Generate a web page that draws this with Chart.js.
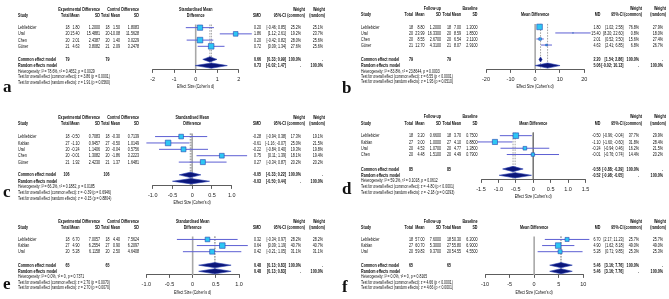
<!DOCTYPE html>
<html>
<head>
<meta charset="utf-8">
<title>Forest plots a-f</title>
<script src="https://cdn.jsdelivr.net/npm/chart.js@4.4.1/dist/chart.umd.min.js"></script>
<style>
  html, body { margin: 0; padding: 0; background: #fff; overflow: hidden; }
  #figure { position: relative; width: 669px; height: 299px; }
  #figure canvas { position: absolute; }
</style>
</head>
<body>
<div id="figure">
  <canvas id="plotA" width="335" height="108" style="left:0;top:0"></canvas>
  <canvas id="plotB" width="334" height="108" style="left:335px;top:0"></canvas>
  <canvas id="plotC" width="335" height="104" style="left:0;top:108px"></canvas>
  <canvas id="plotD" width="334" height="104" style="left:335px;top:108px"></canvas>
  <canvas id="plotE" width="335" height="87" style="left:0;top:212px"></canvas>
  <canvas id="plotF" width="334" height="87" style="left:335px;top:212px"></canvas>
</div>
<script>
// ---------- data ----------

// a - standardised mean difference, 4 studies
const aStudies = ['Lebliebicier', 'Ural', 'Chen', 'Güner'];
const aTotalE = [18, 20, 20, 21];
const aMeanE = [1.80, 15.40, 2.01, 4.63];
const aSdE = [1.2000, 15.4881, 2.4387, 3.8082];
const aTotalC = [18, 20, 20, 21];
const aMeanC = [1.50, -10.08, 1.40, 2.09];
const aSdC = [1.8083, 11.5628, 3.0229, 3.2478];
const aEst = [0.20, 1.86, 0.20, 0.72];
const aLow = [-0.46, 1.12, -0.42, 0.09];
const aHigh = [0.85, 2.61, 0.82, 1.34];
const aWCommon = [25.2, 19.2, 28.0, 27.6];
const aWRandom = [25.1, 23.7, 25.6, 25.6];
const aCommon = [0.66, 0.33, 0.99];
const aRandom = [0.73, -0.02, 1.47];
const aTicks = [-2, -1, 0, 1, 2];
const aStats = ['Heterogeneity: I² = 78.6%, τ² = 0.4652, p = 0.0029',
  'Test for overall effect (common effect): z = 3.86 (p = 0.0001)',
  'Test for overall effect (random effects): z = 1.91 (p = 0.0560)'];

// b - mean difference, 4 studies
const bStudies = ['Lebliebicier', 'Ural', 'Chen', 'Güner'];
const bTotalE = [18, 20, 20, 21];
const bMeanE = [8.80, 23.99, 8.55, 12.70];
const bSdE = [1.2000, 16.3300, 2.6700, 4.3100];
const bTotalC = [18, 20, 20, 21];
const bMeanC = [7.00, 8.59, 6.54, 8.07];
const bSdC = [1.2000, 1.8500, 2.1100, 2.9100];
const bEst = [1.80, 15.40, 2.01, 4.63];
const bLow = [1.02, 8.20, 0.52, 2.41];
const bHigh = [2.58, 22.60, 3.50, 6.85];
const bWCommon = [76.8, 0.8, 15.6, 6.8];
const bWRandom = [27.9, 18.0, 27.4, 26.7];
const bCommon = [2.20, 1.54, 2.86];
const bRandom = [5.06, -0.02, 10.13];
const bTicks = [-20, -10, 0, 10, 20];
const bStats = ['Heterogeneity: I² = 83.8%, τ² = 23.8644, p = 0.0003',
  'Test for overall effect (common effect): z = 6.55 (p < 0.0001)',
  'Test for overall effect (random effects): z = 1.95 (p = 0.0510)'];

// c - standardised mean difference, 5 studies
const cStudies = ['Lebliebicier', 'Kablan', 'Ural', 'Chen', 'Güner'];
const cTotalE = [18, 27, 20, 20, 21];
const cMeanE = [-0.50, -1.10, -0.24, -0.01, 1.92];
const cSdE = [0.7083, 0.9457, 1.1406, 1.3082, 2.4230];
const cTotalC = [18, 27, 20, 20, 21];
const cMeanC = [-0.30, -0.50, -0.04, -1.86, 1.37];
const cSdC = [0.7139, 1.0149, 0.5756, 3.2223, 1.6481];
const cEst = [-0.28, -0.61, -0.22, 0.75, 0.27];
const cLow = [-0.94, -1.16, -0.84, 0.11, -0.34];
const cHigh = [0.38, -0.07, 0.40, 1.39, 0.87];
const cWCommon = [17.3, 25.0, 19.3, 18.1, 20.2];
const cWRandom = [19.1, 21.5, 19.8, 19.4, 20.2];
const cCommon = [-0.05, -0.33, 0.22];
const cRandom = [-0.03, -0.50, 0.44];
const cTicks = [-1, -0.5, 0, 0.5, 1];
const cStats = ['Heterogeneity: I² = 66.2%, τ² = 0.1882, p = 0.0185',
  'Test for overall effect (common effect): z = -0.39 (p = 0.6946)',
  'Test for overall effect (random effects): z = -0.15 (p = 0.8804)'];

// d - mean difference, 4 studies
const dStudies = ['Lebliebicier', 'Kablan', 'Ural', 'Chen'];
const dTotalE = [18, 27, 20, 20];
const dMeanE = [3.20, 3.00, 4.53, 4.48];
const dSdE = [0.6600, 1.0000, 1.0700, 1.5100];
const dTotalC = [18, 27, 20, 20];
const dMeanC = [3.70, 4.10, 4.77, 4.49];
const dSdC = [0.7500, 0.8800, 1.2800, 0.7900];
const dEst = [-0.50, -1.10, -0.24, -0.01];
const dLow = [-0.96, -1.60, -0.94, -0.76];
const dHigh = [-0.04, -0.60, 0.46, 0.74];
const dWCommon = [37.7, 31.8, 16.2, 14.4];
const dWRandom = [29.9, 28.4, 21.5, 20.2];
const dCommon = [-0.58, -0.88, -0.29];
const dRandom = [-0.52, -0.98, -0.05];
const dTicks = [-1.5, -1, -0.5, 0, 0.5, 1, 1.5];
const dStats = ['Heterogeneity: I² = 59.2%, τ² = 0.1018, p = 0.0612',
  'Test for overall effect (common effect): z = -4.80 (p < 0.0001)',
  'Test for overall effect (random effects): z = -2.18 (p = 0.0293)'];

// e - standardised mean difference, 3 studies
const eStudies = ['Lebliebicier', 'Kablan', 'Ural'];
const eTotalE = [18, 27, 20];
const eMeanE = [6.70, 4.90, 5.28];
const eSdE = [7.0057, 6.2554, 6.1158];
const eTotalC = [18, 27, 20];
const eMeanC = [4.40, 0.90, 2.50];
const eSdC = [7.5624, 6.2097, 4.6408];
const eEst = [0.32, 0.64, 0.42];
const eLow = [-0.34, 0.09, -0.21];
const eHigh = [0.97, 1.19, 1.05];
const eWCommon = [28.2, 40.7, 31.1];
const eWRandom = [28.2, 40.7, 31.1];
const eCommon = [0.48, 0.13, 0.83];
const eRandom = [0.48, 0.13, 0.83];
const eTicks = [-1, -0.5, 0, 0.5, 1];
const eStats = ['Heterogeneity: I² = 0.0%, τ² = 0, p = 0.7371',
  'Test for overall effect (common effect): z = 2.70 (p = 0.0070)',
  'Test for overall effect (random effects): z = 2.70 (p = 0.0070)'];

// f - mean difference, 3 studies
const fStudies = ['Lebliebicier', 'Kablan', 'Ural'];
const fTotalE = [18, 27, 20];
const fMeanE = [57.00, 60.70, 59.83];
const fSdE = [7.6000, 5.3000, 9.3700];
const fTotalC = [18, 27, 20];
const fMeanC = [50.30, 55.80, 54.55];
const fSdC = [6.2000, 6.9000, 4.5500];
const fEst = [6.70, 4.90, 5.28];
const fLow = [2.17, 1.62, 0.71];
const fHigh = [11.23, 8.18, 9.85];
const fWCommon = [25.7, 49.0, 25.3];
const fWRandom = [25.7, 49.0, 25.3];
const fCommon = [5.46, 3.16, 7.76];
const fRandom = [5.46, 3.16, 7.76];
const fTicks = [-10, -5, 0, 5, 10];
const fStats = ['Heterogeneity: I² = 0.0%, τ² = 0, p = 0.8165',
  'Test for overall effect (common effect): z = 4.66 (p < 0.0001)',
  'Test for overall effect (random effects): z = 4.66 (p < 0.0001)'];

// headings shared by the two kinds of panel
const smdGroups = ['Experimental Difference', 'Control Difference'];
const mdGroups = ['Follow-up', 'Baseline'];
const smdPlotTitle = ['Standardised Mean', 'Difference'];
const mdPlotTitle = ['Mean Difference'];
const colHeads = ['Total', 'Mean', 'SD', 'Total', 'Mean', 'SD'];
const axisTitle = "Effect Size (Cohen's d)";

// ---------- look ----------
const SANS = '"Liberation Sans", Arial, sans-serif';
const TXT = 5.8;          // table font size
const SQUEEZE = 0.63;     // the figure uses a condensed face
const BOX_MAX = 5.6;      // side of the biggest square, px
const DIAMOND_H = 0.42;   // half height of a diamond, in rows

// column positions (px from panel's left edge)
const smdCols = { study: 18, left: [69.5, 79.5, 100, 109.5, 120, 139], est: 261, ci: 286, wc: 301, wr: 323, wcHead: 305, wrHead: 325 };
const mdCols = { study: 26, left: [78, 89.5, 106, 116, 126, 142.5], est: 265.5, ci: 288.5, wc: 304, wr: 328, wcHead: 307, wrHead: 331 };

function label(ctx, text, x, y, align, bold, size) {
  ctx.save();
  ctx.font = (bold ? 'bold ' : '') + (size || TXT) + 'px ' + SANS;
  ctx.textAlign = align;
  ctx.textBaseline = 'middle';
  ctx.translate(x, y);
  ctx.scale(SQUEEZE, 1);
  ctx.fillText(text, 0, 0);
  ctx.restore();
}

function ci(lo, hi) {
  return '[' + lo.toFixed(2) + '; ' + hi.toFixed(2) + ']';
}

function sum(arr) {
  return arr.reduce((s, v) => s + v, 0);
}

function drawTable(chart, p, rows) {
  const ctx = chart.ctx;
  const xs = chart.scales.x;
  const py = v => chart.scales.y.getPixelForValue(v);
  const c = p.cols;
  const mid = (xs.left + xs.right) / 2;

  ctx.save();
  ctx.fillStyle = '#0d0d0d';

  // headings
  label(ctx, p.groups[0], c.left[2], py(0), 'right', true);
  label(ctx, p.groups[1], c.left[5], py(0), 'right', true);
  label(ctx, 'Study', c.study, py(1), 'left', true);
  colHeads.forEach((t, i) => label(ctx, t, c.left[i], py(1), 'right', true));
  p.plotTitle.forEach((t, i) => label(ctx, t, mid, py(i + 2 - p.plotTitle.length), 'center', true));
  label(ctx, p.measure, c.est, py(1), 'right', true);
  label(ctx, '95%-CI', c.ci, py(1), 'right', true);
  label(ctx, 'Weight', c.wcHead, py(0), 'right', true);
  label(ctx, '(common)', c.wcHead, py(1), 'right', true);
  label(ctx, 'Weight', c.wrHead, py(0), 'right', true);
  label(ctx, '(random)', c.wrHead, py(1), 'right', true);

  // studies
  p.studies.forEach((name, i) => {
    const yy = py(rows.study(i));
    label(ctx, name, c.study, yy, 'left', false);
    const cells = [String(p.nE[i]), p.meanE[i].toFixed(2), p.sdE[i].toFixed(4),
                   String(p.nC[i]), p.meanC[i].toFixed(2), p.sdC[i].toFixed(4)];
    cells.forEach((t, j) => label(ctx, t, c.left[j], yy, 'right', false));
    label(ctx, p.est[i].toFixed(2), c.est, yy, 'right', false);
    label(ctx, ci(p.low[i], p.high[i]), c.ci, yy, 'right', false);
    label(ctx, p.wCommon[i].toFixed(1) + '%', c.wc, yy, 'right', false);
    label(ctx, p.wRandom[i].toFixed(1) + '%', c.wr, yy, 'right', false);
  });

  // pooled estimates
  let yy = py(rows.common);
  label(ctx, 'Common effect model', c.study, yy, 'left', true);
  label(ctx, String(sum(p.nE)), c.left[0], yy, 'right', true);
  label(ctx, String(sum(p.nC)), c.left[3], yy, 'right', true);
  label(ctx, p.common[0].toFixed(2), c.est, yy, 'right', true);
  label(ctx, ci(p.common[1], p.common[2]), c.ci, yy, 'right', true);
  label(ctx, '100.0%', c.wc, yy, 'right', true);
  label(ctx, '.', c.wr, yy, 'right', true);

  yy = py(rows.random);
  label(ctx, 'Random effects model', c.study, yy, 'left', true);
  label(ctx, p.random[0].toFixed(2), c.est, yy, 'right', true);
  label(ctx, ci(p.random[1], p.random[2]), c.ci, yy, 'right', true);
  label(ctx, '.', c.wc, yy, 'right', true);
  label(ctx, '100.0%', c.wr, yy, 'right', true);

  p.stats.forEach((t, i) => label(ctx, t, c.study, py(rows.stats[i]), 'left', false, 5.5));

  label(ctx, axisTitle, mid, py(rows.axis) + 17.5, 'center', false);

  ctx.font = 'bold 17px "Liberation Serif", "Times New Roman", serif';
  ctx.textAlign = 'left';
  ctx.textBaseline = 'alphabetic';
  ctx.fillStyle = '#111';
  ctx.fillText(p.letter, p.geo.letterX, p.geo.letterY);
  ctx.restore();
}

function forest(canvasId, p) {
  const g = p.geo;
  const k = p.studies.length;
  const rows = { study: i => 3 + i };
  rows.common = 3 + (k - 1) + g.gap;
  rows.random = rows.common + 1;
  rows.stats = [rows.random + 0.9, rows.random + 1.8, rows.random + 2.7];
  rows.axis = rows.random + 0.6;
  const refTop = 2.5;

  const canvas = document.getElementById(canvasId);
  const H = canvas.height, W = canvas.width;
  const maxW = Math.max(...p.wCommon);

  const datasets = [];
  // squares sized by common-effect weight
  datasets.push({
    type: 'scatter', order: 0, clip: false,
    data: p.est.map((v, i) => ({ x: v, y: rows.study(i) })),
    pointStyle: 'rect',
    pointRadius: p.wCommon.map(w => BOX_MAX * Math.sqrt(w / maxW) / Math.SQRT2),
    backgroundColor: '#2ec6f4', borderColor: '#2346b0', borderWidth: 0.6
  });
  // pooled diamonds (upper edge + lower edge filled to it)
  [[p.common, rows.common], [p.random, rows.random]].forEach(([pool, row]) => {
    const [est, lo, hi] = pool;
    datasets.push({
      type: 'line', order: 1, clip: false, pointRadius: 0, fill: false,
      borderColor: '#2a3fae', borderWidth: 0.6,
      data: [{ x: lo, y: row }, { x: est, y: row - DIAMOND_H }, { x: hi, y: row }]
    });
    datasets.push({
      type: 'line', order: 1, clip: false, pointRadius: 0, fill: '-1',
      borderColor: '#2a3fae', borderWidth: 0.6, backgroundColor: '#0b167a',
      data: [{ x: lo, y: row }, { x: est, y: row + DIAMOND_H }, { x: hi, y: row }]
    });
  });
  // confidence intervals
  p.est.forEach((v, i) => {
    datasets.push({
      type: 'line', order: 2, clip: false, pointRadius: 0, fill: false,
      borderColor: '#5d5fd3', borderWidth: 1,
      data: [{ x: p.low[i], y: rows.study(i) }, { x: p.high[i], y: rows.study(i) }]
    });
  });
  // dashed lines at the pooled estimates, grey line at zero
  [p.common[0], p.random[0]].forEach(v => {
    datasets.push({
      type: 'line', order: 3, pointRadius: 0, fill: false,
      borderColor: '#8c8c8c', borderWidth: 0.8, borderDash: [1.6, 1.2],
      data: [{ x: v, y: refTop }, { x: v, y: rows.axis }]
    });
  });
  datasets.push({
    type: 'line', order: 4, pointRadius: 0, fill: false,
    borderColor: g.zeroColor || '#a8a8a8', borderWidth: g.zeroWidth || 1.6,
    data: [{ x: 0, y: refTop }, { x: 0, y: rows.axis }]
  });

  const ticks = p.ticks;
  return new Chart(canvas, {
    type: 'line',
    data: { datasets },
    options: {
      responsive: false,
      animation: false,
      events: [],
      layout: { padding: { left: g.xLeft, right: W - g.xRight, top: 0, bottom: 0 } },
      plugins: { legend: { display: false }, tooltip: { enabled: false } },
      scales: {
        x: {
          type: 'linear',
          min: ticks[0], max: ticks[ticks.length - 1],
          position: { y: rows.axis },
          afterBuildTicks: scale => { scale.ticks = ticks.map(v => ({ value: v })); },
          grid: { display: true, drawOnChartArea: false, drawTicks: true, tickLength: 3, color: '#333', lineWidth: 0.8 },
          border: { display: true, color: '#333', width: 0.8 },
          ticks: { autoSkip: false, maxRotation: 0, padding: 3.7, color: '#222', font: { family: SANS, size: 5.5 } }
        },
        y: {
          type: 'linear', display: false, reverse: true,
          min: -g.y0 / g.s, max: (H - g.y0) / g.s
        }
      }
    },
    plugins: [{ id: 'forestTable', afterDraw: chart => drawTable(chart, p, rows) }]
  });
}

function panel(letter, kind, geo, arrs) {
  const smd = kind === 'SMD';
  return Object.assign({
    letter, geo,
    measure: kind,
    cols: smd ? smdCols : mdCols,
    groups: smd ? smdGroups : mdGroups,
    plotTitle: smd ? smdPlotTitle : mdPlotTitle
  }, arrs);
}

forest('plotA', panel('a', 'SMD',
  { y0: 4.8, s: 6.8, gap: 2.1, xLeft: 152.7, xRight: 238.7, letterX: 3, letterY: 92 },
  { studies: aStudies, nE: aTotalE, meanE: aMeanE, sdE: aSdE, nC: aTotalC, meanC: aMeanC, sdC: aSdC,
    est: aEst, low: aLow, high: aHigh, wCommon: aWCommon, wRandom: aWRandom,
    common: aCommon, random: aRandom, ticks: aTicks, stats: aStats }));

forest('plotB', panel('b', 'MD',
  { y0: 4.6, s: 6.6, gap: 2.4, xLeft: 151, xRight: 249.3, letterX: 7, letterY: 93 },
  { studies: bStudies, nE: bTotalE, meanE: bMeanE, sdE: bSdE, nC: bTotalC, meanC: bMeanC, sdC: bSdC,
    est: bEst, low: bLow, high: bHigh, wCommon: bWCommon, wRandom: bWRandom,
    common: bCommon, random: bRandom, ticks: bTicks, stats: bStats }));

forest('plotC', panel('c', 'SMD',
  { y0: 5.3, s: 7.0, gap: 2.0, xLeft: 152.7, xRight: 231.7, letterX: 3, letterY: 89 },
  { studies: cStudies, nE: cTotalE, meanE: cMeanE, sdE: cSdE, nC: cTotalC, meanC: cMeanC, sdC: cSdC,
    est: cEst, low: cLow, high: cHigh, wCommon: cWCommon, wRandom: cWRandom,
    common: cCommon, random: cRandom, ticks: cTicks, stats: cStats }));

forest('plotD', panel('d', 'MD',
  { y0: 4.6, s: 6.9, gap: 2.3, xLeft: 146, xRight: 250.5, letterX: 7, letterY: 86, zeroColor: '#777', zeroWidth: 1 },
  { studies: dStudies, nE: dTotalE, meanE: dMeanE, sdE: dSdE, nC: dTotalC, meanC: dMeanC, sdC: dSdC,
    est: dEst, low: dLow, high: dHigh, wCommon: dWCommon, wRandom: dWRandom,
    common: dCommon, random: dRandom, ticks: dTicks, stats: dStats }));

forest('plotE', panel('e', 'SMD',
  { y0: 5, s: 6.85, gap: 2.2, xLeft: 146.3, xRight: 239, letterX: 3, letterY: 77 },
  { studies: eStudies, nE: eTotalE, meanE: eMeanE, sdE: eSdE, nC: eTotalC, meanC: eMeanC, sdC: eSdC,
    est: eEst, low: eLow, high: eHigh, wCommon: eWCommon, wRandom: eWRandom,
    common: eCommon, random: eRandom, ticks: eTicks, stats: eStats }));

forest('plotF', panel('f', 'MD',
  { y0: 5, s: 6.85, gap: 2.2, xLeft: 150, xRight: 248.3, letterX: 7, letterY: 80 },
  { studies: fStudies, nE: fTotalE, meanE: fMeanE, sdE: fSdE, nC: fTotalC, meanC: fMeanC, sdC: fSdC,
    est: fEst, low: fLow, high: fHigh, wCommon: fWCommon, wRandom: fWRandom,
    common: fCommon, random: fRandom, ticks: fTicks, stats: fStats }));
</script>
</body>
</html>
